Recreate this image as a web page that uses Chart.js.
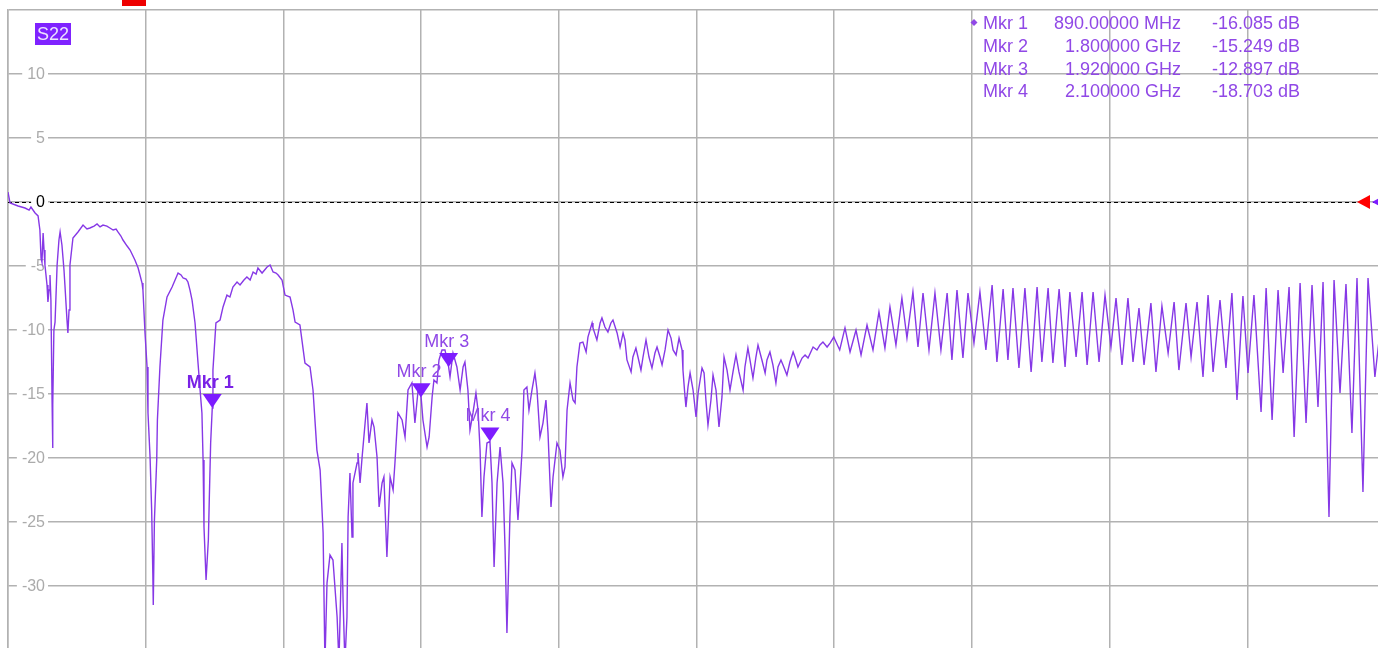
<!DOCTYPE html>
<html><head><meta charset="utf-8">
<script src="https://cdn.jsdelivr.net/npm/chart.js@4.4.1/dist/chart.umd.min.js"></script>
<style>
html,body{margin:0;padding:0;background:#fff;overflow:hidden;width:1378px;height:648px}
canvas{display:block}
</style></head><body>
<canvas id="c" width="1400" height="660" style="width:1400px;height:660px"></canvas>
<script>
// ---- Data (S22 trace, frequency in MHz, magnitude in dB) ----
const freqMHz = [0,9,44,74,92,100,118,131,139,144,148,153,157,161,170,174,179,183,187,192,194,196,200,205,214,222,227,235,244,248,257,261,266,270,283,305,327,344,357,375,388,401,414,431,444,458,471,479,492,501,519,532,553,567,575,584,588,597,606,610,619,626,631,633,638,648,651,662,675,693,715,728,741,754,763,776,784,793,802,815,828,837,845,850,854,863,868,873,877,883,890,893,906,924,937,954,967,980,998,1011,1028,1041,1055,1068,1081,1089,1107,1129,1142,1155,1168,1177,1194,1207,1229,1242,1251,1272,1294,1316,1329,1346,1360,1373,1381,1390,1403,1416,1434,1442,1455,1460,1468,1477,1482,1490,1499,1503,1521,1525,1534,1543,1556,1564,1573,1586,1595,1608,1617,1630,1638,1651,1665,1678,1686,1699,1717,1730,1743,1760,1773,1787,1800,1808,1826,1835,1848,1856,1869,1878,1891,1904,1920,1926,1939,1956,1970,1983,1991,2004,2013,2026,2039,2048,2057,2065,2074,2087,2100,2109,2118,2131,2144,2157,2166,2174,2187,2196,2209,2222,2240,2248,2261,2270,2283,2296,2305,2318,2331,2344,2353,2366,2375,2392,2405,2418,2427,2436,2449,2462,2471,2479,2492,2505,2519,2527,2545,2549,2566,2580,2588,2601,2614,2627,2636,2654,2667,2680,2688,2697,2715,2723,2736,2745,2758,2767,2780,2793,2806,2819,2828,2841,2850,2863,2876,2889,2898,2911,2924,2937,2941,2950,2954,2963,2972,2985,2998,3007,3024,3033,3041,3050,3063,3072,3085,3098,3111,3120,3133,3146,3159,3172,3185,3203,3211,3224,3233,3246,3259,3268,3285,3299,3307,3320,3333,3346,3355,3368,3377,3394,3407,3421,3429,3442,3460,3473,3486,3508,3525,3538,3551,3569,3582,3598,3624,3647,3669,3695,3717,3743,3769,3795,3821,3843,3869,3895,3917,3943,3965,3987,4013,4039,4065,4092,4113,4135,4161,4183,4209,4235,4261,4288,4309,4336,4357,4379,4405,4431,4458,4484,4505,4532,4553,4580,4606,4627,4654,4680,4702,4728,4754,4780,4806,4828,4854,4880,4902,4928,4950,4980,5002,5028,5055,5081,5102,5133,5155,5181,5207,5229,5251,5281,5307,5333,5355,5381,5403,5429,5460,5482,5508,5534,5556,5582,5604,5630,5656,5682,5708,5730,5756,5778,5804,5830,5856,5878,5904,5926,5956,5979,6000];
const s22dB = [0.78,-0.08,-0.31,-0.47,-0.63,-0.39,-0.86,-1.09,-2.19,-4.38,-4.69,-2.42,-3.75,-4.92,-6.48,-7.81,-6.88,-5.70,-7.66,-15.47,-19.22,-15.86,-10.00,-9.38,-4.92,-2.97,-2.34,-3.36,-5.31,-6.48,-9.22,-10.23,-8.44,-4.92,-2.81,-2.34,-1.80,-2.11,-2.03,-1.88,-1.72,-1.95,-1.80,-1.88,-2.03,-2.19,-2.11,-2.34,-2.66,-2.97,-3.44,-3.75,-4.53,-5.16,-5.70,-6.33,-6.88,-10.23,-12.89,-16.48,-19.92,-24.06,-28.98,-31.48,-24.84,-20.16,-17.03,-12.89,-9.22,-7.42,-6.64,-6.09,-5.55,-5.70,-5.94,-6.02,-6.25,-6.88,-7.66,-9.45,-12.58,-14.69,-16.48,-20.16,-25.39,-29.53,-27.97,-26.41,-23.28,-18.83,-16.09,-13.13,-9.45,-9.22,-8.20,-7.27,-7.42,-6.64,-6.25,-6.48,-6.09,-5.86,-6.09,-5.47,-5.63,-5.16,-5.55,-5.08,-4.92,-5.47,-5.55,-5.70,-6.09,-7.27,-7.42,-8.44,-9.38,-9.61,-12.58,-12.89,-14.69,-19.38,-20.94,-25.86,-36.00,-29.77,-27.58,-27.97,-32.42,-36.00,-26.64,-31.10,-36.00,-32.42,-24.61,-21.17,-26.17,-21.95,-20.39,-19.61,-21.95,-19.92,-17.27,-15.70,-18.83,-17.03,-17.58,-19.92,-23.83,-21.95,-21.48,-27.73,-21.48,-22.50,-20.39,-16.48,-17.03,-18.36,-14.69,-14.14,-17.27,-14.69,-15.25,-17.03,-19.14,-18.36,-15.23,-13.91,-14.14,-12.34,-11.56,-11.56,-12.90,-13.67,-11.80,-12.89,-14.69,-12.89,-12.50,-14.69,-17.81,-16.48,-14.92,-16.25,-19.38,-24.61,-21.48,-18.83,-18.70,-21.95,-28.52,-21.95,-19.14,-21.95,-27.19,-33.67,-24.61,-20.39,-20.94,-24.84,-19.38,-14.69,-14.45,-16.25,-14.69,-13.36,-14.69,-18.36,-17.27,-15.47,-18.05,-23.83,-21.48,-18.83,-19.38,-21.48,-20.70,-16.25,-14.14,-15.47,-15.70,-12.89,-11.02,-10.94,-11.72,-10.55,-9.45,-9.84,-10.78,-9.45,-9.06,-9.77,-10.16,-9.45,-9.22,-10.23,-11.33,-10.23,-10.78,-12.34,-13.28,-12.11,-11.41,-12.11,-13.13,-12.11,-10.78,-12.11,-12.97,-11.80,-11.33,-12.11,-12.73,-11.56,-10.00,-10.63,-11.56,-11.95,-10.63,-11.56,-13.13,-15.23,-16.02,-14.45,-13.36,-14.69,-16.80,-14.92,-12.97,-13.36,-15.47,-17.42,-15.47,-13.52,-14.69,-17.58,-15.23,-12.11,-13.13,-14.69,-13.28,-11.95,-13.28,-14.69,-12.89,-11.41,-12.34,-13.75,-12.11,-11.17,-12.34,-13.36,-12.34,-11.72,-12.73,-14.14,-12.89,-12.34,-12.73,-13.52,-12.50,-11.72,-12.11,-12.89,-12.19,-11.95,-12.19,-11.33,-11.56,-11.17,-10.94,-11.33,-11.02,-10.55,-11.56,-9.84,-11.72,-10.00,-11.95,-9.61,-11.56,-8.59,-11.41,-8.20,-11.17,-7.50,-10.63,-7.03,-11.33,-7.11,-11.56,-7.11,-11.56,-7.11,-12.34,-6.88,-12.19,-7.11,-11.02,-7.03,-11.56,-6.48,-12.50,-6.80,-12.34,-6.72,-12.97,-6.72,-13.28,-6.64,-12.50,-6.72,-12.58,-6.80,-12.89,-7.03,-12.11,-7.03,-12.73,-7.03,-12.50,-7.27,-11.33,-7.50,-12.73,-7.50,-12.50,-8.28,-12.73,-7.89,-13.28,-8.13,-11.80,-7.81,-13.13,-7.89,-12.11,-7.81,-13.67,-7.27,-13.28,-7.66,-12.97,-7.11,-15.47,-7.34,-13.36,-7.27,-16.41,-6.72,-17.03,-6.88,-13.36,-6.64,-18.36,-6.33,-17.27,-6.48,-16.02,-6.25,-24.61,-6.09,-14.92,-6.41,-18.05,-5.94,-22.66,-5.94,-13.67,-10.00,-7.66];

// Markers
const markerNames = ['Mkr 1','Mkr 2','Mkr 3','Mkr 4'];
const markerFreqMHz = [890, 1800, 1920, 2100];
const markerDb = [-16.085, -15.249, -12.897, -18.703];
const markerFreqText = ['890.00000 MHz','1.800000 GHz','1.920000 GHz','2.100000 GHz'];
const markerDbText = ['-16.085 dB','-15.249 dB','-12.897 dB','-18.703 dB'];

// Axes
const yTickValues = [10,5,0,-5,-10,-15,-20,-25,-30];
const yMin = -35, yMax = 15, yStep = 5;
const xMin = 0, xMax = 6000, xStep = 600;
const refLevel = 0;
const traceName = 'S22';

const FONT = '"Liberation Sans", Arial, sans-serif';
const TRACE = '#8638e6';
const MK = '#7d1cff';
const TXT = '#9048e6';
const GRID = '#b2b2b2';

const overlay = {
  id: 'overlay',
  beforeDatasetsDraw(chart) {
    const {ctx, chartArea: a, scales: {x, y}} = chart;
    ctx.save();
    const y0 = Math.round(y.getPixelForValue(refLevel)) + 0.5;
    ctx.strokeStyle = '#000'; ctx.lineWidth = 1; ctx.setLineDash([4, 3]);
    ctx.beginPath(); ctx.moveTo(a.left, y0); ctx.lineTo(a.right, y0); ctx.stroke();
    ctx.setLineDash([]);
    ctx.font = '16px ' + FONT; ctx.textAlign = 'right'; ctx.textBaseline = 'middle';
    yTickValues.forEach(v => {
      const py = y.getPixelForValue(v);
      const t = String(v);
      const w = ctx.measureText(t).width;
      const r = a.left + 37;
      ctx.fillStyle = '#fff';
      ctx.fillRect(r - w - 5, py - 8, w + 8, 16);
      ctx.fillStyle = v === refLevel ? '#000' : '#ababab';
      ctx.fillText(t, r, py + 1);
    });
    ctx.restore();
  },
  afterDatasetsDraw(chart) {
    const {ctx, chartArea: a, scales: {x, y}} = chart;
    ctx.save();
    // marker triangles and labels
    markerNames.forEach((n, i) => {
      const px = x.getPixelForValue(markerFreqMHz[i]);
      const py = y.getPixelForValue(markerDb[i]);
      ctx.fillStyle = MK;
      ctx.beginPath();
      ctx.moveTo(px, py); ctx.lineTo(px - 9.5, py - 14); ctx.lineTo(px + 9.5, py - 14); ctx.closePath();
      ctx.fill();
      ctx.font = (i === 0 ? 'bold ' : '') + '18px ' + FONT;
      ctx.fillStyle = i === 0 ? '#7a22e6' : TXT;
      ctx.textAlign = 'center'; ctx.textBaseline = 'alphabetic';
      ctx.fillText(n, px - 2, py - 20);
    });
    // marker table
    ctx.font = '18px ' + FONT; ctx.fillStyle = TXT; ctx.textBaseline = 'alphabetic';
    const base = [29, 52, 74.5, 96.5];
    markerNames.forEach((n, i) => {
      ctx.textAlign = 'left'; ctx.fillText(n, 983, base[i]);
      ctx.textAlign = 'right'; ctx.fillText(markerFreqText[i], 1181, base[i]);
      ctx.fillText(markerDbText[i], 1300, base[i]);
    });
    // active marker diamond
    ctx.beginPath();
    ctx.moveTo(974, 19); ctx.lineTo(977.5, 22.5); ctx.lineTo(974, 26); ctx.lineTo(970.5, 22.5); ctx.closePath();
    ctx.fill();
    // trace name box
    ctx.fillStyle = '#7f22ff';
    ctx.fillRect(35, 23, 36, 22);
    ctx.fillStyle = '#ece2ff'; ctx.font = '18px ' + FONT; ctx.textAlign = 'center'; ctx.textBaseline = 'middle';
    ctx.fillText(traceName, 53, 35);
    // reference level arrows
    const y0 = y.getPixelForValue(refLevel);
    ctx.fillStyle = '#ff0000';
    ctx.beginPath(); ctx.moveTo(a.right - 28, y0); ctx.lineTo(a.right - 15, y0 - 7); ctx.lineTo(a.right - 15, y0 + 7); ctx.closePath(); ctx.fill();
    ctx.fillStyle = MK;
    ctx.beginPath(); ctx.moveTo(a.right - 13, y0); ctx.lineTo(a.right, y0 - 7); ctx.lineTo(a.right, y0 + 7); ctx.closePath(); ctx.fill();
    // header remnant (red box at very top)
    ctx.fillStyle = '#ee0000';
    ctx.fillRect(122, 0, 24, 6);
    ctx.restore();
  }
};

const points = freqMHz.map((f, i) => ({x: f, y: s22dB[i]}));

new Chart(document.getElementById('c'), {
  type: 'line',
  data: { datasets: [{
    label: traceName, data: points, borderColor: TRACE, borderWidth: 1.4,
    pointRadius: 0, tension: 0, fill: false
  }]},
  options: {
    responsive: false, animation: false, devicePixelRatio: 1,
    layout: { padding: { left: 8, top: 10, right: 15, bottom: 10 } },
    plugins: { legend: { display: false }, tooltip: { enabled: false }, title: { display: false } },
    scales: {
      x: { type: 'linear', min: xMin, max: xMax,
           ticks: { display: false, stepSize: xStep },
           grid: { color: GRID, lineWidth: 1.5, drawTicks: false },
           border: { display: false } },
      y: { type: 'linear', min: yMin, max: yMax,
           ticks: { display: false, stepSize: yStep },
           grid: { color: GRID, lineWidth: 1.5, drawTicks: false },
           border: { display: true, color: GRID, width: 1.5 } }
    }
  },
  plugins: [overlay]
});
</script>
</body></html>
